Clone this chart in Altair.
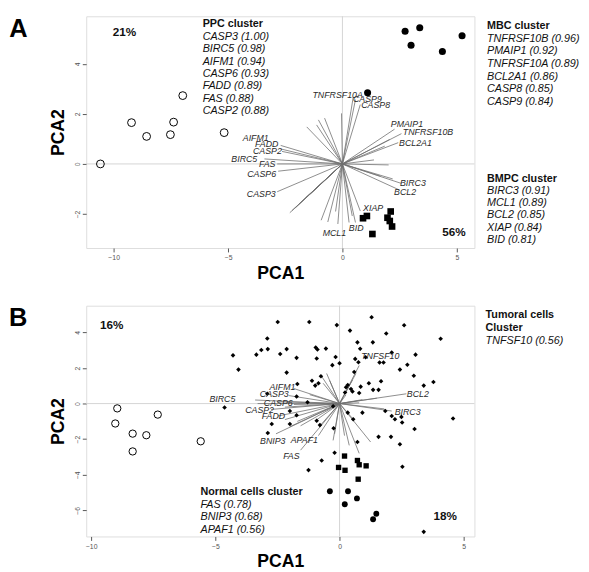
import altair as alt
import pandas as pd

# ---------------- Panel A data ----------------
A_PPC_PC1 = [-10.58, -9.22, -8.56, -7.52, -7.38, -6.98, -5.17]
A_PPC_PC2 = [0.00, 1.65, 1.10, 1.17, 1.67, 2.73, 1.25]
A_MBC_PC1 = [2.74, 3.38, 3.00, 5.23, 4.37, 1.10]
A_MBC_PC2 = [5.30, 5.44, 4.74, 5.12, 4.49, 2.84]
A_BMPC_PC1 = [0.90, 1.07, 2.11, 1.97, 2.07, 2.17, 1.31]
A_BMPC_PC2 = [-2.17, -2.08, -1.90, -2.15, -2.28, -2.50, -2.80]

A_LOAD_PC1 = [0.47, 0.57, 0.78, 2.28, 2.58, 2.44, 2.58, 2.44, 0.78, 0.57, -0.20,
              -2.70, -2.70, -2.64, -3.41, -2.85, -2.81, -2.85,
              -1.13, -1.05, -1.56, -0.78, -0.04, -2.20, -2.05, -1.90, -1.60, -1.40, -2.30,
              -0.93, -0.64, -0.30, 0.29, 0.43, 2.02, 1.38, 1.66, 2.07, 1.85, 2.20]
A_LOAD_PC2 = [2.66, 2.57, 2.37, 1.39, 1.21, 0.85, -0.78, -1.02, -1.88, -2.34, -2.40,
              0.74, 0.60, 0.50, 0.20, 0.00, -0.29, -1.11,
              1.56, 1.76, 1.48, 1.83, 2.02, -1.86, -1.75, -1.60, -1.35, -1.20, -1.95,
              -2.25, -2.32, -1.90, -2.34, -2.08, -0.04, 0.16, -0.49, 0.98, 0.71, -0.60]

A_GENES = ["TNFRSF10A", "CASP9", "CASP8", "PMAIP1", "TNFRSF10B", "BCL2A1", "BIRC3", "BCL2",
           "XIAP", "BID", "MCL1", "AIFM1", "FADD", "CASP2", "BIRC5", "FAS", "CASP6", "CASP3"]
A_GENE_PC1 = [-0.21, 1.09, 1.45, 2.82, 3.74, 3.19, 3.08, 2.74, 1.34, 0.60, -0.35,
              -3.79, -3.31, -3.28, -4.29, -3.29, -3.53, -3.55]
A_GENE_PC2 = [2.77, 2.60, 2.34, 1.60, 1.26, 0.85, -0.75, -1.11, -1.76, -2.58, -2.76,
              1.04, 0.81, 0.52, 0.20, -0.01, -0.39, -1.21]

PPC_GENES = ["CASP3", "BIRC5", "AIFM1", "CASP6", "FADD", "FAS", "CASP2"]
PPC_R = ["1.00", "0.98", "0.94", "0.93", "0.89", "0.88", "0.88"]
MBC_GENES = ["TNFRSF10B", "PMAIP1", "TNFRSF10A", "BCL2A1", "CASP8", "CASP9"]
MBC_R = ["0.96", "0.92", "0.89", "0.86", "0.85", "0.84"]
BMPC_GENES = ["BIRC3", "MCL1", "BCL2", "XIAP", "BID"]
BMPC_R = ["0.91", "0.89", "0.85", "0.84", "0.81"]
A_VAR = ["21%", "56%"]

# ---------------- Panel B data ----------------
B_NORMAL_PC1 = [-8.95, -9.03, -8.33, -7.78, -8.33, -7.32, -5.59]
B_NORMAL_PC2 = [-0.27, -1.12, -1.69, -1.78, -2.69, -0.62, -2.12]
B_SQ_PC1 = [0.20, 0.72, 0.79, 1.07, -0.04, 0.22, 0.75]
B_SQ_PC2 = [-2.95, -3.20, -3.44, -3.50, -3.59, -3.75, -4.25]
B_CIRC_PC1 = [-0.39, 0.34, 0.70, 0.21, 1.48, 1.35]
B_CIRC_PC2 = [-4.93, -4.93, -5.33, -5.66, -6.19, -6.50]
B_TUM_PC1 = [-2.49, -2.91, -2.89, -3.15, -3.35, -2.39, -2.13, -4.29, -1.73, -4.07, -2.13, -1.70,
             -1.73, -2.91, -4.63, -2.73, -2.00, -1.73, -2.89,
             -1.22, -0.11, 1.29, 0.42, 2.60, 1.88, 4.07, 0.72, 1.34, 0.83, -0.96, -0.89, -0.55,
             -0.92, -0.16, -0.29, 0.00, 0.63, 0.76, 1.05, 1.61, 1.77, 2.10, 2.43, 2.73, 3.06,
             -0.75, -1.11, -0.98, -0.85, 0.85, 1.18, 1.35, 1.57, 1.67, 2.99, 3.39, 3.78, 0.26,
             0.46, 0.52, -1.29, -0.92, -0.79, 0.33, 0.55, 0.92, 1.84, 2.10, 2.23, 2.49, 2.52,
             3.02, 4.57, 2.43, 2.07, 1.57, 0.72, -0.72, -1.25, -0.20, 2.53, 3.39, -0.26, -0.24,
             0.59, 0.33, 0.79, -2.00, 0.22]
B_TUM_PC2 = [4.58, 3.66, 3.06, 3.01, 2.75, 2.79, 3.06, 2.71, 2.57, 1.91, 1.74, 1.10,
             0.40, 0.55, -0.22, -1.15, -1.15, -0.66, -1.65,
             4.58, 4.41, 4.85, 4.10, 4.40, 3.94, 3.64, 3.44, 3.44, 3.08, 3.15, 3.04, 3.09,
             2.53, 2.62, 2.16, 2.27, 2.51, 2.32, 2.60, 2.31, 2.31, 2.87, 1.91, 2.18, 2.75,
             1.54, 1.28, 1.01, 1.14, 0.95, 1.14, 0.77, 0.77, 1.25, 1.56, 1.01, 1.21, 0.92,
             0.82, 0.68, 0.07, -0.97, -1.21, -0.51, -0.88, -0.51, -0.42, -0.70, -0.88, -0.75, -1.06,
             -1.43, -0.84, -2.29, -1.87, -1.87, -2.16, -3.20, -3.74, -2.76, -3.55, -7.21, -0.15, -1.39,
             1.77, 1.04, 0.59, -0.42, 0.62]

B_LOAD_PC1 = [0.79, 2.69, 2.10, -1.85, -2.05, -3.40, -3.30, -2.76, -2.49, -2.56, -0.85, -1.57,
              0.66, 0.52, -0.75, -0.66, -0.52, -0.40, 0.26, 0.92, 0.79, 1.50, 1.80, 1.25, 0.79,
              0.55, -0.26, -0.20, 0.20, 0.39, -0.79, -0.98, -1.57, -1.84, -2.20, -2.00, -1.70,
              -1.20, -2.50, -2.20]
B_LOAD_PC2 = [2.14, 0.55, -0.42, 0.85, 0.45, 0.20, 0.00, -0.33, -0.70, -1.70, -1.80, -2.62,
              1.69, 1.32, 1.59, 1.14, 1.69, 1.30, 0.49, 0.22, 0.04, 0.30, -0.30, -2.16, -2.80,
              -0.88, -2.07, -1.70, -1.80, -2.35, -1.25, -0.97, -1.25, -0.05, -0.90, -1.30, -1.00,
              0.50, 0.10, -0.20]

B_GENES = ["TNFSF10", "BCL2", "BIRC3", "AIFM1", "CASP3", "BIRC5", "CASP6", "CASP2", "FADD",
           "BNIP3", "APAF1", "FAS"]
B_GENE_PC1 = [1.64, 3.15, 2.74, -2.30, -2.63, -4.72, -2.47, -3.22, -2.66, -2.69, -1.42, -1.94]
B_GENE_PC2 = [2.69, 0.55, -0.46, 0.95, 0.53, 0.26, 0.02, -0.37, -0.73, -2.13, -2.07, -2.93]

NORMAL_GENES = ["FAS", "BNIP3", "APAF1"]
NORMAL_R = ["0.78", "0.68", "0.56"]
TUMORAL_GENES = ["TNFSF10"]
TUMORAL_R = ["0.56"]
B_VAR = ["16%", "18%"]

FONT = "Liberation Sans"


def pts(xs, ys):
    return pd.DataFrame({"x": xs, "y": ys})


def block(x, y0, step, lines):
    return pd.DataFrame({"x": [x] * len(lines),
                         "y": [y0 - i * step for i in range(len(lines))],
                         "t": lines})


def panel(xdom, ydom, xvals, yvals, height, point_layers, loads, genes,
          bold_notes, italic_notes, pct_notes, letter):
    X = alt.X("x:Q", scale=alt.Scale(domain=xdom, nice=False, zero=False),
              axis=alt.Axis(values=xvals, title="PCA1", grid=False, domain=False,
                            tickSize=4, tickColor="#555", labelFontSize=7, labelColor="#555",
                            labelPadding=2, titleFontSize=18, titleFontWeight="bold",
                            titleColor="#000", titlePadding=4, labelFont=FONT, titleFont=FONT))
    Y = alt.Y("y:Q", scale=alt.Scale(domain=ydom, nice=False, zero=False),
              axis=alt.Axis(values=yvals, title="PCA2", grid=False, domain=False,
                            tickSize=4, tickColor="#555", labelFontSize=7, labelColor="#555",
                            labelAngle=270, labelAlign="center", labelBaseline="bottom",
                            labelPadding=2, titleFontSize=18, titleFontWeight="bold",
                            titleColor="#000", titlePadding=6, labelFont=FONT, titleFont=FONT))
    layers = [
        alt.Chart(pd.DataFrame({"x": [0.0]})).mark_rule(color="#d4d4d4", strokeWidth=1).encode(x=X),
        alt.Chart(pd.DataFrame({"y": [0.0]})).mark_rule(color="#d4d4d4", strokeWidth=1).encode(y=Y),
        alt.Chart(loads).mark_rule(color="#707070", strokeWidth=0.8).encode(
            x=X, y=Y, x2="x2:Q", y2="y2:Q"),
    ]
    for df, shape, filled, size in point_layers:
        if filled:
            m = alt.Chart(df).mark_point(shape=shape, filled=True, color="#000", size=size, opacity=1)
        else:
            m = alt.Chart(df).mark_point(shape=shape, filled=False, color="#000", size=size,
                                         strokeWidth=1, opacity=1)
        layers.append(m.encode(x=X, y=Y))
    layers.append(alt.Chart(genes).mark_text(font=FONT, fontSize=9, fontStyle="italic",
                                             color="#2a2a2a", align="center", baseline="middle")
                  .encode(x=X, y=Y, text="t:N"))
    layers.append(alt.Chart(bold_notes).mark_text(font=FONT, fontSize=11, fontWeight="bold",
                                                  color="#111", align="left", baseline="middle")
                  .encode(x=X, y=Y, text="t:N"))
    layers.append(alt.Chart(italic_notes).mark_text(font=FONT, fontSize=11, fontStyle="italic",
                                                    color="#111", align="left", baseline="middle")
                  .encode(x=X, y=Y, text="t:N"))
    layers.append(alt.Chart(pct_notes).mark_text(font=FONT, fontSize=12, fontWeight="bold",
                                                 color="#111", align="left", baseline="middle")
                  .encode(x=X, y=Y, text="t:N"))
    layers.append(alt.Chart(letter).mark_text(font=FONT, fontSize=26, fontWeight="bold",
                                              color="#000", align="left", baseline="top")
                  .encode(x=X, y=Y, text="t:N"))
    return alt.layer(*layers).properties(width=397, height=height)


# ---------- Panel A ----------
A_loads = pd.DataFrame({"x": 0.0, "y": 0.0, "x2": A_LOAD_PC1, "y2": A_LOAD_PC2})
A_genes = pd.DataFrame({"x": A_GENE_PC1, "y": A_GENE_PC2, "t": A_GENES})
A_bold = pd.concat([
    block(-6.11, 5.57, 0.496, ["PPC cluster"]),
    block(6.32, 5.50, 0.5, ["MBC cluster"]),
    block(6.32, -0.59, 0.496, ["BMPC cluster"]),
])
A_it = pd.concat([
    block(-6.11, 5.08, 0.496, [f"{g} ({r})" for g, r in zip(PPC_GENES, PPC_R)]),
    block(6.32, 4.99, 0.5, [f"{g} ({r})" for g, r in zip(MBC_GENES, MBC_R)]),
    block(6.32, -1.07, 0.496, [f"{g} ({r})" for g, r in zip(BMPC_GENES, BMPC_R)]),
])
A_pct = pd.DataFrame({"x": [-10.04, 4.36], "y": [5.27, -2.73], "t": A_VAR})
A_letter = pd.DataFrame({"x": [-14.57], "y": [5.9], "t": ["A"]})

chartA = panel([-11.2, 5.77], [-3.36, 5.9], [-10, -5, 0, 5], [-2, 0, 2, 4], 237,
               [(pts(A_PPC_PC1, A_PPC_PC2), "circle", False, 64),
                (pts(A_MBC_PC1, A_MBC_PC2), "circle", True, 52),
                (pts(A_BMPC_PC1, A_BMPC_PC2), "square", True, 46)],
               A_loads, A_genes, A_bold, A_it, A_pct, A_letter)

# ---------- Panel B ----------
B_loads = pd.DataFrame({"x": 0.0, "y": 0.0, "x2": B_LOAD_PC1, "y2": B_LOAD_PC2})
B_genes = pd.DataFrame({"x": B_GENE_PC1, "y": B_GENE_PC2, "t": B_GENES})
B_bold = pd.concat([
    block(-5.60, -4.95, 0.709, ["Normal cells cluster"]),
    block(5.88, 4.98, 0.73, ["Tumoral cells", "Cluster"]),
])
B_it = pd.concat([
    block(-5.60, -5.68, 0.709, [f"{g} ({r})" for g, r in zip(NORMAL_GENES, NORMAL_R)]),
    block(5.88, 3.52, 0.73, [f"{g} ({r})" for g, r in zip(TUMORAL_GENES, TUMORAL_R)]),
])
B_pct = pd.DataFrame({"x": [-9.65, 3.78], "y": [4.40, -6.34], "t": B_VAR})
B_letter = pd.DataFrame({"x": [-13.31], "y": [5.5], "t": ["B"]})

chartB = panel([-10.2, 5.43], [-7.47, 5.5], [-10, -5, 0, 5], [-6, -4, -2, 0, 2, 4], 236,
               [(pts(B_NORMAL_PC1, B_NORMAL_PC2), "circle", False, 56),
                (pts(B_TUM_PC1, B_TUM_PC2), "diamond", True, 22),
                (pts(B_SQ_PC1, B_SQ_PC2), "square", True, 30),
                (pts(B_CIRC_PC1, B_CIRC_PC2), "circle", True, 36)],
               B_loads, B_genes, B_bold, B_it, B_pct, B_letter)

chart = alt.vconcat(chartA, chartB, spacing=22).properties(
    padding={"left": 0, "top": 1, "right": 0, "bottom": 0}
).configure_view(stroke="#222", strokeWidth=1.2).configure(font=FONT)

chart.save("out.html", embed_options={"renderer": "svg", "actions": False})
